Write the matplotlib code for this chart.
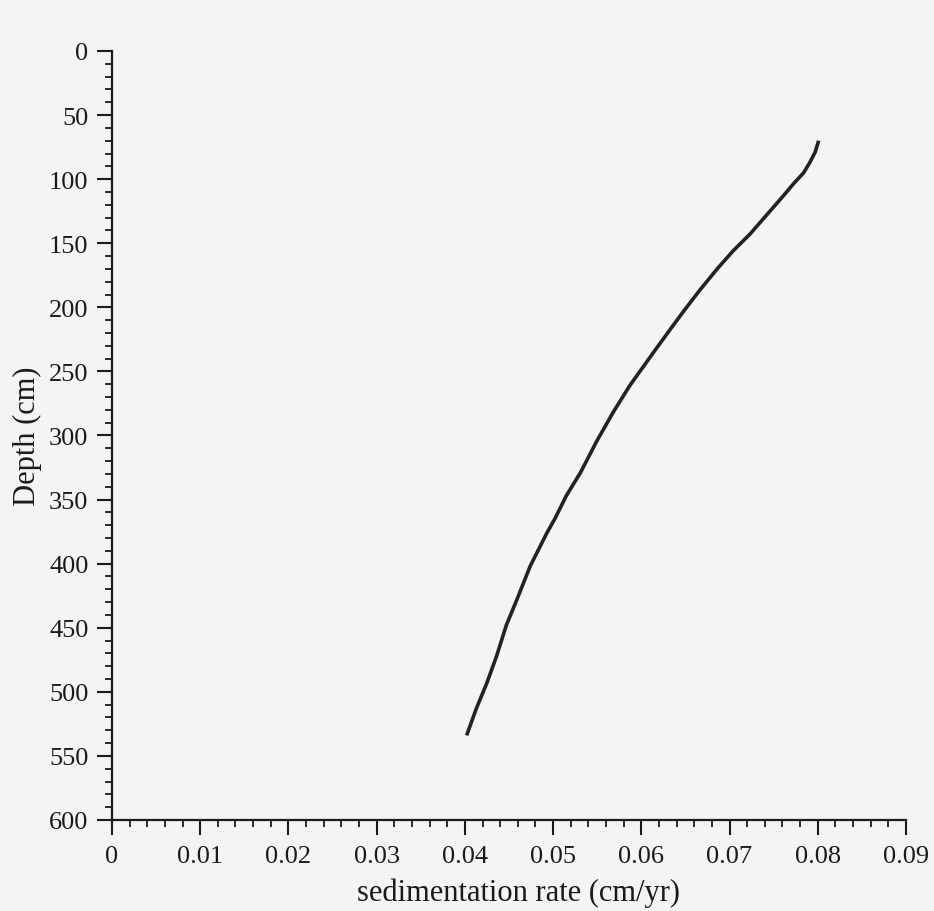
import numpy as np
import matplotlib.pyplot as plt
from matplotlib.ticker import MultipleLocator

# Points (sedimentation rate vs depth)
rate = [0.0801, 0.0797, 0.0791, 0.0784, 0.0772, 0.0761, 0.0742, 0.0723,
        0.0704, 0.0686, 0.0667, 0.0648, 0.0633, 0.0614, 0.0587, 0.0568,
        0.0549, 0.0531, 0.0515, 0.0502, 0.0493, 0.0474, 0.0459, 0.0447,
        0.0436, 0.0425, 0.0413, 0.0402]
depth = [70, 79, 87, 95, 104, 113, 128, 143,
         156, 170, 186, 203, 217, 235, 261, 282,
         305, 329, 347, 365, 376, 402, 428, 448,
         472, 493, 513, 534]

x_ticks = [0, 0.01, 0.02, 0.03, 0.04, 0.05, 0.06, 0.07, 0.08, 0.09]
x_labels = ['0', '0.01', '0.02', '0.03', '0.04', '0.05', '0.06', '0.07', '0.08', '0.09']
y_ticks = list(range(0, 601, 50))

plt.rcParams['font.family'] = ['Liberation Serif', 'DejaVu Serif']

bg = '#f4f4f2'
ink = '#1a1a1a'

fig = plt.figure(figsize=(9.34, 9.12), dpi=100)
fig.patch.set_facecolor(bg)
ax = fig.add_axes([0.1199, 0.0998, 0.8501, 0.8432])
ax.set_facecolor(bg)

ax.plot(rate, depth, color='#222222', lw=2.6, solid_capstyle='butt', solid_joinstyle='round')

ax.set_xlim(0, 0.09)
ax.set_ylim(600, 0)
ax.set_xticks(x_ticks)
ax.set_xticklabels(x_labels)
ax.set_yticks(y_ticks)
ax.xaxis.set_minor_locator(MultipleLocator(0.002))
ax.yaxis.set_minor_locator(MultipleLocator(10))

for s in ['top', 'right']:
    ax.spines[s].set_visible(False)
for s in ['left', 'bottom']:
    ax.spines[s].set_linewidth(1.6)
    ax.spines[s].set_color(ink)

ax.tick_params(which='major', direction='out', length=11, width=1.5,
               labelsize=19, colors=ink, pad=6)
ax.tick_params(axis='x', which='major', pad=7)
ax.tick_params(which='minor', direction='out', length=5, width=1.3, colors=ink)

ax.set_xlabel('sedimentation rate (cm/yr)', fontsize=22, labelpad=0, color=ink)
ax.xaxis.set_label_coords(0.512, -0.075)
ax.set_ylabel('Depth (cm)', fontsize=22, labelpad=6, color=ink)
ax.yaxis.set_label_coords(-0.088, 0.5)

fig.savefig('out.png', dpi=100, facecolor=fig.get_facecolor())
